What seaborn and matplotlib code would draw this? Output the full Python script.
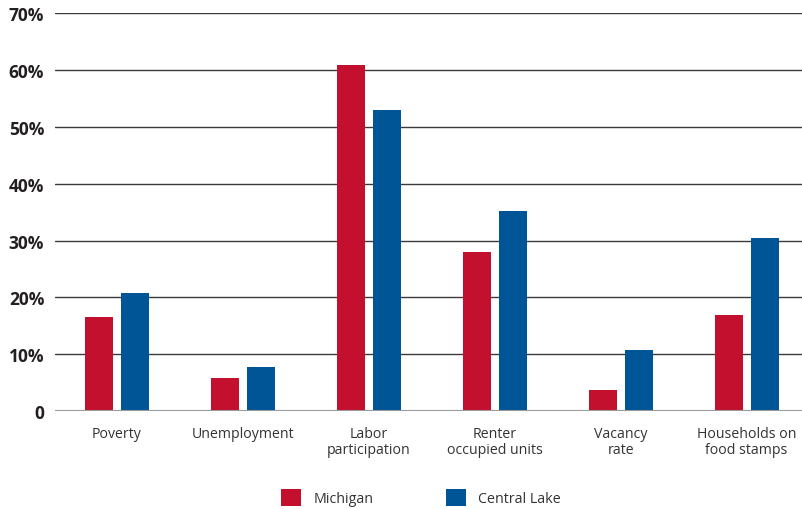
import pandas as pd
import seaborn as sns
import matplotlib.pyplot as plt

categories = ["Poverty", "Unemployment", "Labor\nparticipation",
              "Renter\noccupied units", "Vacancy\nrate",
              "Households on\nfood stamps"]
michigan = [16.5, 5.8, 60.9, 28.0, 3.7, 16.9]
central_lake = [20.8, 7.7, 53.0, 35.2, 10.7, 30.5]
series_names = ["Michigan", "Central Lake"]
y_ticks = [0, 10, 20, 30, 40, 50, 60, 70]
y_tick_labels = ["0", "10%", "20%", "30%", "40%", "50%", "60%", "70%"]

colors = ["#C3102F", "#005596"]


def main():
    df = pd.DataFrame({
        "Category": categories * 2,
        "Value": michigan + central_lake,
        "Series": [series_names[0]] * len(categories)
        + [series_names[1]] * len(categories),
    })

    sns.set_style("white")
    plt.rcParams['font.family'] = ['Open Sans', 'DejaVu Sans']

    fig = plt.figure(figsize=(8.02, 5.10), dpi=100)
    ax = fig.add_axes([0.069, 0.192, 0.931, 0.780])

    sns.barplot(data=df, x="Category", y="Value", hue="Series",
                palette=colors, width=0.571, gap=0.22, saturation=1,
                linewidth=0, ax=ax, zorder=3)

    ax.set_ylim(0, 70)
    ax.set_xlim(-0.49, 5.44)
    ax.set_yticks(y_ticks)
    ax.set_yticklabels(y_tick_labels, fontsize=12.5, fontweight='bold',
                       color='#231F20')
    ax.tick_params(axis='y', length=0, pad=8)
    ax.tick_params(axis='x', length=0, pad=11, labelsize=10.2,
                   labelcolor='#333333')
    for lbl in ax.get_xticklabels():
        lbl.set_linespacing(1.05)

    # gridlines, baseline drawn lighter
    for y in y_ticks[1:]:
        ax.axhline(y, color='#3a3a3a', lw=1.0, zorder=1)
    ax.axhline(0, color='#9a9a9a', lw=1.5, zorder=4)

    ax.set_xlabel("")
    ax.set_ylabel("")
    sns.despine(ax=ax, left=True, bottom=True)

    handles, labels = ax.get_legend_handles_labels()
    ax.legend(handles, labels, loc='upper center',
              bbox_to_anchor=(0.49, -0.163), ncol=2, frameon=False,
              fontsize=10.3, handlelength=1.4, handleheight=1.5,
              columnspacing=5.0, handletextpad=0.9,
              labelcolor='#333333')

    plt.savefig('out.png', dpi=100)


if __name__ == "__main__":
    main()
